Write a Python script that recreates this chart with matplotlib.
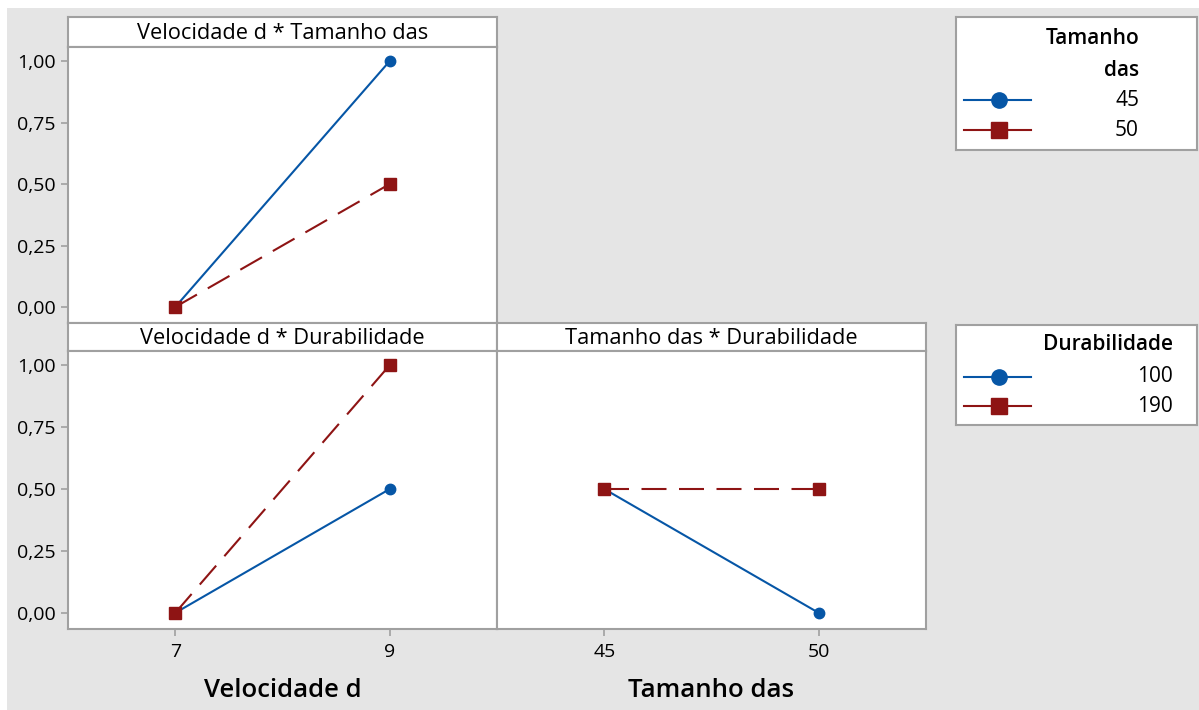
"""Interaction plot (Minitab style) for Velocidade d, Tamanho das, Durabilidade."""

import matplotlib.pyplot as plt
from matplotlib.lines import Line2D
from matplotlib.patches import Rectangle

plt.rcParams["font.family"] = ["Open Sans", "DejaVu Sans"]

# factor levels
velocidade_levels = [7, 9]
tamanho_levels = [45, 50]
durabilidade_levels = [100, 190]

# means per panel, one list per trace level
vel_x_tam_45 = [0.0, 1.0]
vel_x_tam_50 = [0.0, 0.5]
vel_x_dur_100 = [0.0, 0.5]
vel_x_dur_190 = [0.0, 1.0]
tam_x_dur_100 = [0.5, 0.0]
tam_x_dur_190 = [0.5, 0.5]

y_ticks = [0.0, 0.25, 0.5, 0.75, 1.0]
y_tick_labels = ["0,00", "0,25", "0,50", "0,75", "1,00"]

BLUE = "#0656a6"
RED = "#8e1414"
FRAME = "#a0a0a0"
BG = "#e5e5e5"

W, H = 1199, 710
fig = plt.figure(figsize=(W / 100, H / 100), dpi=100)
fig.patch.set_facecolor("white")
fig.patches.append(Rectangle((7 / W, 0), 1, 1 - 8 / H, transform=fig.transFigure,
                             facecolor=BG, edgecolor="none", zorder=-10))


def px_axes(x0, y0, x1, y1):
    """Axes from pixel box (top-left origin)."""
    return fig.add_axes([x0 / W, 1 - y1 / H, (x1 - x0) / W, (y1 - y0) / H])


def strip(x0, y0, x1, y1, text):
    ax = px_axes(x0, y0, x1, y1)
    ax.set_xticks([])
    ax.set_yticks([])
    for s in ax.spines.values():
        s.set_color(FRAME)
        s.set_linewidth(1.5)
    ax.text(0.5, 0.45, text, ha="center", va="center", fontsize=15.7,
            transform=ax.transAxes)
    return ax


def panel(x0, y0, x1, y1, levels, blue_y, red_y, show_x, show_y):
    ax = px_axes(x0, y0, x1, y1)
    ax.plot(levels, blue_y, color=BLUE, lw=1.5, marker="o", ms=7.5, zorder=3)
    ax.plot(levels, red_y, color=RED, lw=1.5, marker="s", ms=8,
            linestyle=(0, (12, 6)), zorder=3)
    span = levels[1] - levels[0]
    ax.set_xlim(levels[0] - 0.5 * span, levels[1] + 0.5 * span)
    ax.set_ylim(-0.065, 1.057)
    for s in ax.spines.values():
        s.set_color(FRAME)
        s.set_linewidth(1.5)
    ax.tick_params(colors=FRAME, labelcolor="black", length=5, width=1.2,
                   labelsize=14)
    if show_x:
        ax.set_xticks(levels)
        ax.set_xticklabels([str(v) for v in levels])
        ax.tick_params(axis="x", pad=5)
    else:
        ax.set_xticks([])
    if show_y:
        ax.set_yticks(y_ticks)
        ax.set_yticklabels(y_tick_labels)
        ax.tick_params(axis="y", pad=4)
    else:
        ax.set_yticks([])
    return ax


# top-left
strip(68, 17, 497, 47, "Velocidade d * Tamanho das")
panel(68, 47, 497, 323, velocidade_levels, vel_x_tam_45, vel_x_tam_50, False, True)

# bottom-left
strip(68, 323, 497, 351, "Velocidade d * Durabilidade")
ax_bl = panel(68, 351, 497, 629, velocidade_levels, vel_x_dur_100, vel_x_dur_190, True, True)
ax_bl.set_xlabel("Velocidade d", fontsize=18.5, fontweight="semibold", labelpad=12)

# bottom-right
strip(497, 323, 926, 351, "Tamanho das * Durabilidade")
ax_br = panel(497, 351, 926, 629, tamanho_levels, tam_x_dur_100, tam_x_dur_190, True, False)
ax_br.set_xlabel("Tamanho das", fontsize=18.5, fontweight="semibold", labelpad=12)


def legend_box(x0, y0, x1, y1, text_right, title_lines, title_y, labels, row_y):
    ax = px_axes(x0, y0, x1, y1)
    ax.set_xlim(x0, x1)
    ax.set_ylim(y1, y0)
    ax.set_xticks([])
    ax.set_yticks([])
    for s in ax.spines.values():
        s.set_color(FRAME)
        s.set_linewidth(1.5)
    for line, ty in zip(title_lines, title_y):
        ax.text(text_right, ty, line, ha="right", va="center", fontsize=15,
                fontweight="semibold")
    styles = [(BLUE, "o", 11), (RED, "s", 11)]
    for (col, mk, ms), lab, ry in zip(styles, labels, row_y):
        ax.add_line(Line2D([x0 + 8, x0 + 75], [ry, ry], color=col, lw=1.5))
        ax.plot([x0 + 43], [ry], marker=mk, color=col, ms=ms)
        ax.text(text_right, ry, lab, ha="right", va="center", fontsize=15)
    return ax


legend_box(956, 17, 1197, 150, 1139, ["Tamanho", "das"], [39, 71],
           [str(v) for v in tamanho_levels], [100, 130])
legend_box(956, 325, 1197, 425, 1173, ["Durabilidade"], [344],
           [str(v) for v in durabilidade_levels], [377, 406])

fig.savefig("out.png", dpi=100)
